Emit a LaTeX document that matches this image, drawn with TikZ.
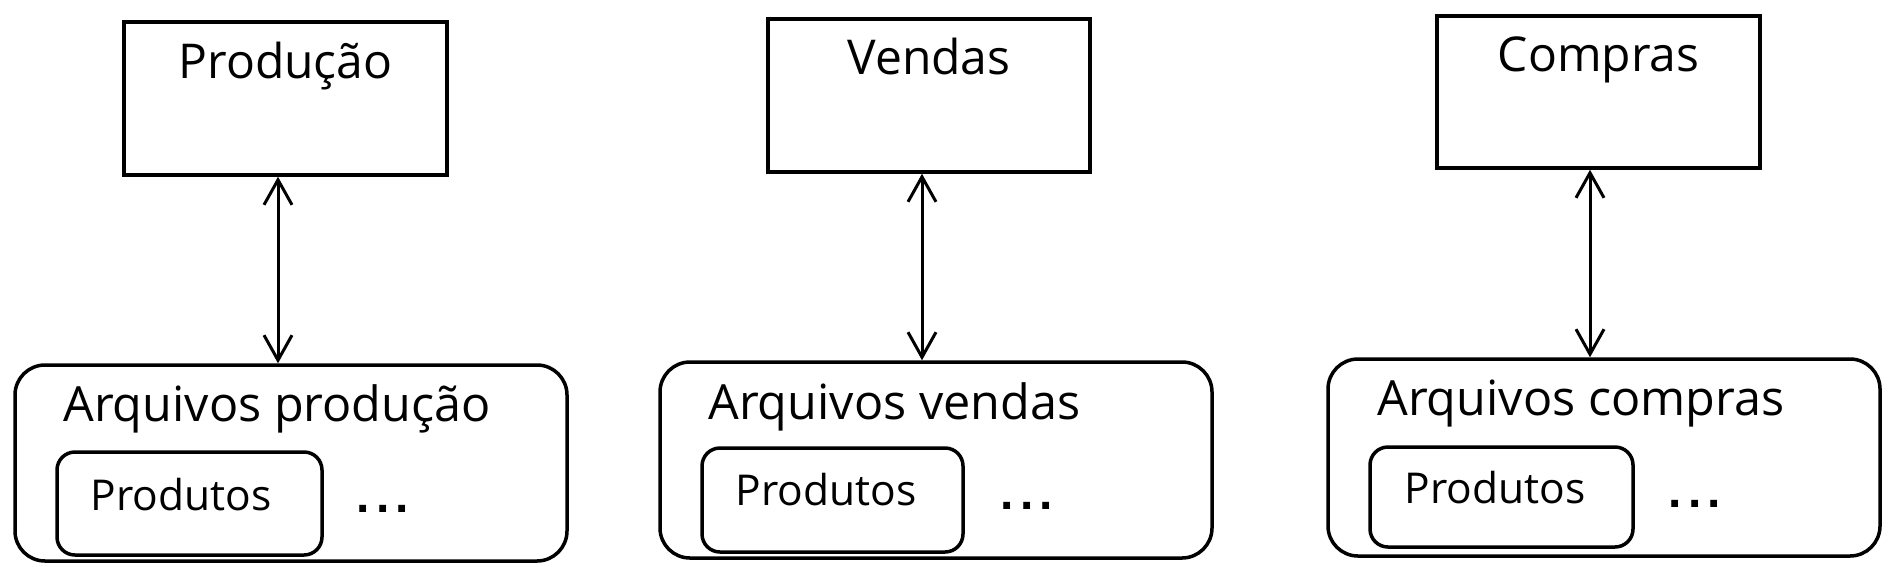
\documentclass[tikz,border=0pt]{standalone}
\usepackage{fontspec}
\setmainfont{Open Sans}
\newfontfamily\dotfont{Liberation Sans}
\usetikzlibrary{arrows.meta}
\tikzset{
  dept/.style={draw, line width=3.5pt, minimum width=323pt, minimum height=153pt, inner sep=0pt},
  filebox/.style={draw, line width=3.5pt, rounded corners=30pt, minimum width=552pt, minimum height=196pt, inner sep=0pt},
  tablebox/.style={draw, line width=3.5pt, rounded corners=18pt, minimum width=263pt, minimum height=102pt, inner sep=0pt},
  titletext/.style={anchor=base, inner sep=0pt, font=\fontsize{48}{52}\selectfont},
  filetext/.style={anchor=base west, inner sep=0pt, font=\fontsize{48.5}{52}\selectfont},
  tabletext/.style={anchor=base west, inner sep=0pt, font=\fontsize{42.5}{46}\selectfont},
  moretext/.style={anchor=base west, inner sep=0pt, font=\dotfont\bfseries\fontsize{48}{52}\selectfont},
  link/.style={line width=3pt, {Straight Barb[length=25pt,width=28pt]}-{Straight Barb[length=25pt,width=28pt]}}
}
\newcommand{\moredots}{.\kern6pt.\kern6pt.}
\begin{document}
\begin{tikzpicture}[x=1pt,y=-1pt]
\useasboundingbox[fill=white] (0,0) rectangle (1894,566);

% Produção
\node[dept] (prod) at (285.5,98.5) {};
\node[titletext] (prodt) at ([yshift=-58pt]prod.north) {Produção};
\node[filebox] (aprod) at (291,463) {};
\node[filetext] (aprodt) at ([xshift=50pt,yshift=-58pt]aprod.north west) {Arquivos produção};
\node[tablebox, minimum width=265pt, minimum height=103pt] (iprod) at (189.5,503.5) {};
\node[tabletext] (iprodt) at ([xshift=35pt,yshift=-60pt]iprod.north west) {Produtos};
\node[moretext] (dprod) at ([xshift=33pt,yshift=-62pt]iprod.north east) {\moredots};
\draw[link] ([xshift=-7.5pt]prod.south) -- ([xshift=-7.5pt]prod.south |- aprod.north);

% Vendas
\node[dept, minimum width=322pt] (vend) at (929,95.5) {};
\node[titletext] (vendt) at ([yshift=-57pt]vend.north) {Vendas};
\node[filebox] (avend) at (936,460) {};
\node[filetext] (avendt) at ([xshift=50pt,yshift=-59pt]avend.north west) {Arquivos vendas};
\node[tablebox, minimum width=261pt, minimum height=104pt] (ivend) at (832.5,500) {};
\node[tabletext] (ivendt) at ([xshift=35pt,yshift=-59pt]ivend.north west) {Produtos};
\node[moretext] (dvend) at ([xshift=36pt,yshift=-63pt]ivend.north east) {\moredots};
\draw[link] ([xshift=-7pt]vend.south) -- ([xshift=-7pt]vend.south |- avend.north);

% Compras
\node[dept, minimum height=152pt] (comp) at (1598.5,92) {};
\node[titletext] (compt) at ([yshift=-57pt]comp.north) {Compras};
\node[filebox, minimum height=197pt] (acomp) at (1604,457.5) {};
\node[filetext] (acompt) at ([xshift=51pt,yshift=-58pt]acomp.north west) {Arquivos compras};
\node[tablebox, minimum height=100pt] (icomp) at (1501.5,497) {};
\node[tabletext] (icompt) at ([xshift=36pt,yshift=-58pt]icomp.north west) {Produtos};
\node[moretext] (dcomp) at ([xshift=34pt,yshift=-62pt]icomp.north east) {\moredots};
\draw[link] ([xshift=-8.5pt]comp.south) -- ([xshift=-8.5pt]comp.south |- acomp.north);
\end{tikzpicture}
\end{document}
